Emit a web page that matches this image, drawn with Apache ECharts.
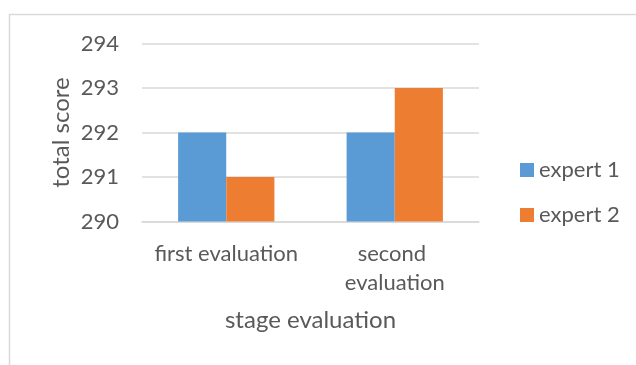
<!DOCTYPE html>
<html>
<head>
<meta charset="utf-8">
<script src="https://cdn.jsdelivr.net/npm/echarts@6/dist/echarts.min.js"></script>
<style>
  html, body { margin: 0; padding: 0; background: #ffffff; }
  #chart { width: 636px; height: 365px; }
</style>
</head>
<body>
<div id="chart"></div>
<script>
// Stage categories and each expert's total score
const categories = ['first evaluation', 'second evaluation'];
const expert1 = [292, 292];
const expert2 = [291, 293];
const seriesNames = ['expert 1', 'expert 2'];
const yMin = 290, yMax = 294, yStep = 1;

const FONT = 'Lato';
const TEXT = '#595959';
const GRID_LINE = '#D9D9D9';

const chart = echarts.init(document.getElementById('chart'), null, { renderer: 'canvas' });

chart.setOption({
  animation: false,
  backgroundColor: '#ffffff',
  textStyle: { fontFamily: FONT, color: TEXT },
  graphic: [{
    type: 'rect',
    shape: { x: 9.5, y: 14.5, width: 700, height: 400 },
    style: { fill: 'none', stroke: GRID_LINE, lineWidth: 1.5 },
    silent: true
  }],
  grid: { left: 142, right: 157, top: 43.5, bottom: 143.5, containLabel: false },
  legend: {
    orient: 'vertical',
    left: 520,
    top: 158,
    padding: 0,
    itemWidth: 14,
    itemHeight: 14,
    itemGap: 21,
    icon: 'rect',
    data: seriesNames,
    textStyle: { fontFamily: FONT, fontSize: 22, color: TEXT, lineHeight: 24 }
  },
  xAxis: {
    type: 'category',
    data: categories,
    name: 'stage evaluation',
    nameLocation: 'middle',
    nameGap: 87,
    nameMoveOverlap: false,
    nameTextStyle: { fontFamily: FONT, fontSize: 24, color: TEXT },
    axisLine: { show: true, lineStyle: { color: GRID_LINE, width: 1.5 } },
    axisTick: { show: false },
    axisLabel: {
      fontFamily: FONT, fontSize: 22, color: TEXT,
      margin: 18, lineHeight: 29,
      width: 160, overflow: 'break', interval: 0
    }
  },
  yAxis: {
    type: 'value',
    min: yMin, max: yMax, interval: yStep,
    name: 'total score',
    nameLocation: 'middle',
    nameRotate: 90,
    nameGap: 69,
    nameMoveOverlap: false,
    nameTextStyle: { fontFamily: FONT, fontSize: 24, color: TEXT },
    axisLine: { show: false },
    axisTick: { show: false },
    axisLabel: { fontFamily: FONT, fontSize: 22, color: TEXT, margin: 23 },
    splitLine: { lineStyle: { color: GRID_LINE, width: 1.5 } }
  },
  series: [
    {
      name: seriesNames[0], type: 'bar', data: expert1,
      barGap: '0%', barCategoryGap: '42.86%',
      itemStyle: { color: '#5B9BD5' }
    },
    {
      name: seriesNames[1], type: 'bar', data: expert2,
      barGap: '0%', barCategoryGap: '42.86%',
      itemStyle: { color: '#ED7D31' }
    }
  ]
});
</script>
</body>
</html>
